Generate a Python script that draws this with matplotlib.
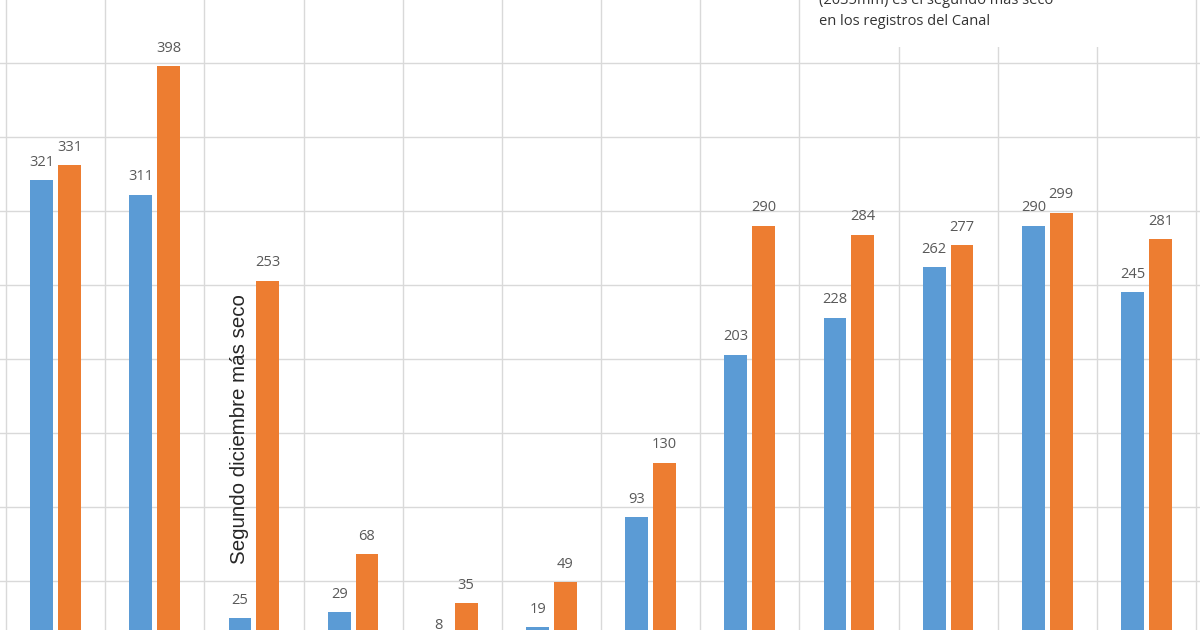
import matplotlib.pyplot as plt
from matplotlib.patches import Rectangle
import numpy as np

serie_a = [321, 311, 25, 29, 8, 19, 93, 203, 228, 262, 290, 245]
serie_b = [331, 398, 253, 68, 35, 49, 130, 290, 284, 277, 299, 281]
n = len(serie_a)

azul = '#5B9BD5'
naranja = '#ED7D31'
gris = '#595959'

fig = plt.figure(figsize=(12, 6.3), dpi=100)
ax = fig.add_axes([0, 0, 1, 1])

x = np.arange(n)
w = 0.23
off = 0.14
ax.bar(x - off, serie_a, w, color=azul, zorder=2)
ax.bar(x + off, serie_b, w, color=naranja, zorder=2)

for i in range(n):
    ax.text(x[i] - off, serie_a[i] + 7, str(serie_a[i]), ha='center', va='bottom',
            fontsize=10.5, color=gris, family='Open Sans', zorder=3)
    ax.text(x[i] + off, serie_b[i] + 7, str(serie_b[i]), ha='center', va='bottom',
            fontsize=10.5, color=gris, family='Open Sans', zorder=3)

# grid
for yy in range(50, 450, 50):
    ax.axhline(yy, color='#d9d9d9', lw=1, zorder=1)
for i in range(n + 1):
    ax.axvline(i - 0.5, color='#d9d9d9', lw=1, zorder=1)

ax.set_xlim(-0.5 - 6 / 99.17, (1200 - 6) / 99.17 - 0.5)
ax.set_ylim(16.9, 442.6)
ax.axis('off')

# note box at the top (first line is cut by the crop, as in the original)
ax.add_patch(Rectangle((7.5 + 0.02, 411), 3.45, 40, facecolor='white',
                       edgecolor='none', zorder=1.5))
ax.text(7.7, 442.0, '(2035mm) es el segundo más seco', ha='left', va='center',
        fontsize=10.5, color='#333333', family='Open Sans', zorder=3)
ax.text(7.7, 428.0, 'en los registros del Canal', ha='left', va='center',
        fontsize=10.5, color='#333333', family='Open Sans', zorder=3)

ax.text(1.85, 153, 'Segundo diciembre más seco', rotation=90, ha='center', va='center',
        fontsize=14.8, color='#262626', family='Liberation Sans', zorder=3)

fig.savefig('out.png', dpi=100)
